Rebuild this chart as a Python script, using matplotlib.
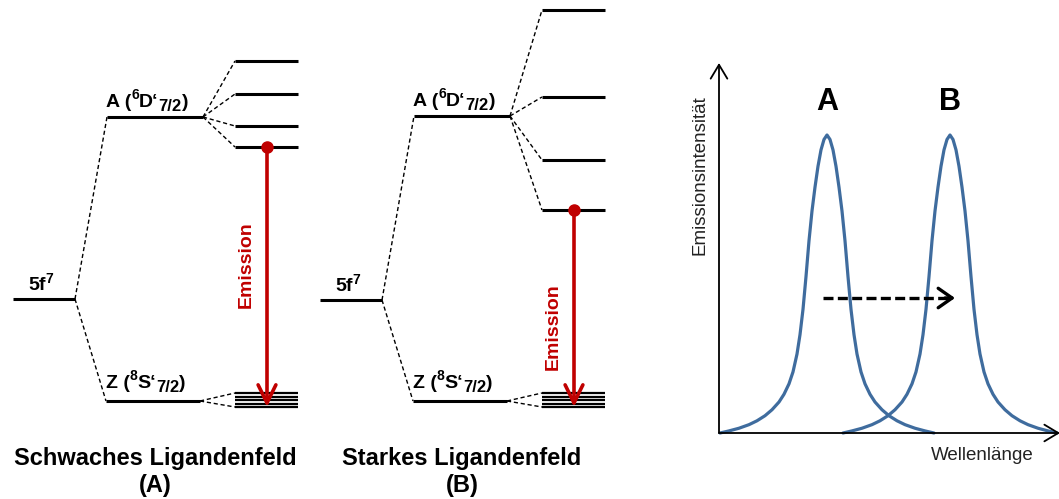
import numpy as np
import matplotlib
matplotlib.use('Agg')
import matplotlib.pyplot as plt

plt.rcParams['font.family'] = ['Liberation Sans', 'DejaVu Sans']

# term energies of both schemes (arbitrary units, ground state Z = 0)
scheme_titles = ['Schwaches Ligandenfeld\n(A)', 'Starkes Ligandenfeld\n(B)']
free_ion = [102, 101]                     # 5f7
excited = [284, 285]                      # A (6D'7/2)
ground = [0, 0]                           # Z (8S'7/2)
excited_split = [[340, 307, 275, 254], [391, 304, 241, 191]]
ground_split = [8, 4.5, 1, -2.5, -6]

# emission bands: half-profile (offset from maximum, relative height)
band_offset = [0, 3, 6, 9, 12, 15, 18, 21, 24, 27, 30, 34, 38, 43, 48, 55, 62, 70, 78, 88, 98, 107]
band_height = [1.0, 0.985, 0.95, 0.895, 0.825, 0.745, 0.645, 0.525, 0.415, 0.33, 0.265, 0.205,
               0.165, 0.13, 0.104, 0.078, 0.058, 0.041, 0.028, 0.016, 0.007, 0.0]
band_labels = ['A', 'B']
band_max = [108, 231]                      # wavelength of maximum (a.u.)

red = '#C00000'
blue = '#3F6C9E'

fig = plt.figure(figsize=(10.59, 4.99), dpi=100)
renderer = fig.canvas.get_renderer()


def rich_label(ax, x, y, pieces):
    """pieces: (text, fontsize, raise in points); placed one after another"""
    dx = 0.0
    for s, size, dy in pieces:
        t = ax.annotate(s, xy=(x, y), xytext=(dx, dy), textcoords='offset points',
                        fontsize=size, fontweight='bold', va='baseline', ha='left')
        dx += t.get_window_extent(renderer).width * 72 / fig.dpi


# ---- level schemes ----
ax = fig.add_axes([0, 0, 1, 1])
ax.set_xlim(0, 1059)
ax.set_ylim(-98, 401)
ax.axis('off')

lev = dict(color='black', lw=2.2, solid_capstyle='butt')
dash = dict(color='black', lw=1.0, dashes=(3, 2))
emission_y = [136, 74]

for d in range(2):
    ox = 307 * d
    ax.plot([13 + ox, 75 + ox], [free_ion[d]] * 2, **lev)
    ax.plot([107 + ox, 203 + ox], [excited[d]] * 2, **lev)
    ax.plot([106 + ox, 200 + ox], [ground[d]] * 2, **lev)
    ax.plot([75 + ox, 107 + ox], [free_ion[d], excited[d]], **dash)
    ax.plot([75 + ox, 106 + ox], [free_ion[d], ground[d]], **dash)
    for e in excited_split[d]:
        ax.plot([203 + ox, 235 + ox], [excited[d], e], **dash)
        ax.plot([235 + ox, 298 + ox], [e, e], **lev)
    for e in (ground_split[0], ground_split[-1]):
        ax.plot([200 + ox, 235 + ox], [ground[d], e], **dash)
    for e in ground_split:
        ax.plot([235 + ox, 298 + ox], [e, e], color='black', lw=1.6, solid_capstyle='butt')

    rich_label(ax, 28 + ox, free_ion[d] + 9, [('5f', 14, 0), ('7', 10, 5)])
    rich_label(ax, 106 + ox, excited[d] + 10.5,
               [('A (', 14, 0), ('6', 10, 5.5), ('D‘', 14, 0), ('7/2', 12, -3), (')', 14, 0)])
    rich_label(ax, 106 + ox, ground[d] + 13,
               [('Z (', 14, 0), ('8', 10, 5.5), ('S‘', 14, 0), ('7/2', 12, -3), (')', 14, 0)])

    # emission arrow from the lowest excited sublevel
    low = excited_split[d][-1]
    ax.annotate('', xy=(267 + ox, ground_split[-1]), xytext=(267 + ox, low),
                arrowprops=dict(arrowstyle='->, head_length=0.65, head_width=0.32',
                                color=red, lw=2.6, mutation_scale=20,
                                shrinkA=0, shrinkB=0))
    ax.plot(267 + ox, low, 'o', color=red, ms=8)
    ax.text(246 + ox, emission_y[d], 'Emission', rotation=90, color=red,
            fontsize=14, fontweight='bold', ha='center', va='center')

    ax.text(155 + ox, -71, scheme_titles[d], fontsize=17, fontweight='bold',
            ha='center', va='center', linespacing=1.2)

# ---- emission spectra ----
ax2 = fig.add_axes([719 / 1059, 66 / 499, 340 / 1059, 370 / 499])
ax2.set_xlim(0, 340)
ax2.set_ylim(0, 370 / 298)
ax2.axis('off')

off = np.array(band_offset)
h = np.array(band_height)
for lab, m in zip(band_labels, band_max):
    x = np.concatenate([m - off[::-1], m + off[1:]])
    y = np.concatenate([h[::-1], h[1:]])
    ax2.plot(x, y, color=blue, lw=2.3, solid_joinstyle='round',
             solid_capstyle='round', clip_on=False)
    ax2.text(m, 1.11, lab, fontsize=22, fontweight='bold', ha='center', va='center')

axis_arrow = dict(arrowstyle='->, head_length=0.5, head_width=0.3', color='black',
                  lw=1.3, mutation_scale=20, shrinkA=0, shrinkB=0)
ax2.annotate('', xy=(0, 1), xytext=(0, 0), xycoords='axes fraction',
             textcoords='axes fraction', arrowprops=axis_arrow)
ax2.annotate('', xy=(1.003, 0), xytext=(0, 0), xycoords='axes fraction',
             textcoords='axes fraction', arrowprops=axis_arrow)

ax2.plot([104, 230], [0.453, 0.453], color='black', lw=2.4, dashes=(3, 1.3))
ax2.annotate('', xy=(236, 0.453), xytext=(226, 0.453),
             arrowprops=dict(arrowstyle='->, head_length=0.5, head_width=0.35',
                             color='black', lw=2.4, mutation_scale=20,
                             shrinkA=0, shrinkB=0))

fig.text(700 / 1059, 1 - 175 / 499, 'Emissionsintensität', rotation=90,
         fontsize=13.5, ha='center', va='center', color='#222222')
fig.text(982 / 1059, 1 - 456 / 499, 'Wellenlänge', fontsize=13.5,
         ha='center', va='center', color='#222222')

fig.savefig('out.png', dpi=100)
